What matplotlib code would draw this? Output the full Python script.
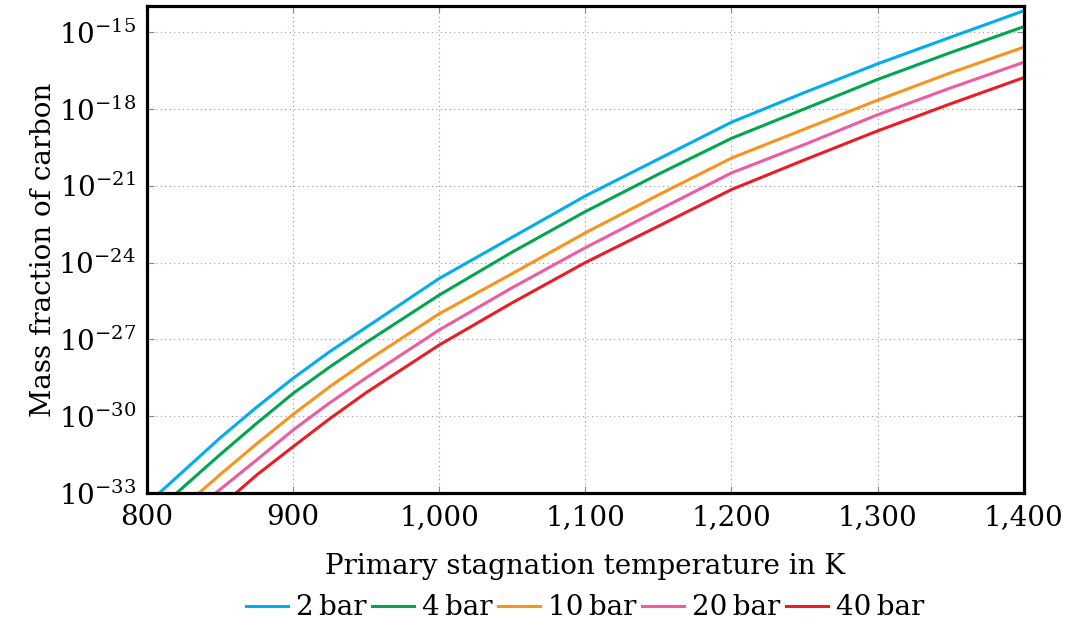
import matplotlib
matplotlib.use("Agg")
import matplotlib.pyplot as plt
import numpy as np
from matplotlib.ticker import FuncFormatter, NullLocator

# (log10 of mass fraction)
t_2bar = [808.4, 850, 875, 900, 925, 950, 1000, 1050, 1100, 1150, 1200, 1250, 1300, 1350, 1400]
y_2bar = [-33, -30.85, -29.65, -28.52, -27.48, -26.53, -24.62, -23.01, -21.40, -19.96, -18.52,
          -17.36, -16.24, -15.20, -14.17]

t_4bar = [820.3, 850, 875, 900, 925, 950, 1000, 1050, 1100, 1150, 1200, 1250, 1300, 1350, 1400]
y_4bar = [-33, -31.5, -30.28, -29.11, -28.08, -27.12, -25.27, -23.59, -22.01, -20.55, -19.15,
          -18.0, -16.85, -15.80, -14.79]

t_10bar = [835.6, 850, 875, 900, 925, 950, 1000, 1050, 1100, 1150, 1200, 1250, 1300, 1350, 1400]
y_10bar = [-33, -32.28, -31.08, -29.93, -28.85, -27.86, -26.0, -24.43, -22.84, -21.36, -19.92,
           -18.79, -17.66, -16.59, -15.59]

t_20bar = [847, 875, 900, 925, 950, 1000, 1050, 1100, 1150, 1200, 1250, 1300, 1350, 1400]
y_20bar = [-33, -31.71, -30.54, -29.48, -28.50, -26.63, -24.98, -23.42, -21.95, -20.5,
           -19.39, -18.23, -17.18, -16.18]

t_40bar = [860.9, 875, 900, 925, 950, 1000, 1050, 1100, 1150, 1200, 1250, 1300, 1350, 1400]
y_40bar = [-33, -32.3, -31.19, -30.1, -29.08, -27.22, -25.57, -24.0, -22.58, -21.15,
           -19.99, -18.86, -17.80, -16.78]

labels = ["2\u2009bar", "4\u2009bar", "10\u2009bar", "20\u2009bar", "40\u2009bar"]
colors = ["#00aeef", "#00a650", "#f7941d", "#ef5ba1", "#ed1c24"]

plt.rcParams['font.family'] = 'DejaVu Serif'
plt.rcParams['mathtext.fontset'] = 'dejavuserif'
plt.rcParams['font.size'] = 20

fig = plt.figure(figsize=(10.73, 6.35), dpi=100)
ax = fig.add_axes([0.137, 0.2236, 0.817, 0.767])

series = [(t_2bar, y_2bar), (t_4bar, y_4bar), (t_10bar, y_10bar),
          (t_20bar, y_20bar), (t_40bar, y_40bar)]
for (t, y), lab, c in zip(series, labels, colors):
    ax.plot(t, 10.0 ** np.array(y), color=c, lw=2.2, label=lab)

ax.set_yscale('log')
ax.set_xlim(800, 1400)
ax.set_ylim(1e-33, 10 ** -13.98)
ax.set_xticks(range(800, 1401, 100))
ax.set_yticks([10.0 ** e for e in range(-33, -14, 3)])
ax.yaxis.set_minor_locator(NullLocator())
ax.xaxis.set_major_formatter(FuncFormatter(lambda v, p: f"{int(v):,}"))

ax.grid(True, color='#999999', ls=(0, (1, 3)), lw=0.8)
ax.tick_params(direction='in', top=True, right=True, length=5, width=0.8,
               color='#888888', pad=8)
for s in ax.spines.values():
    s.set_linewidth(2.3)

ax.set_xlabel("Primary stagnation temperature in K", labelpad=16)
ax.set_ylabel("Mass fraction of carbon", labelpad=1)

ax.legend(loc='center', bbox_to_anchor=(0.5, -0.236), ncol=5,
          frameon=False, handlelength=1.5, handletextpad=0.3,
          columnspacing=0.2, borderaxespad=0)

fig.savefig("out.png", dpi=100)
